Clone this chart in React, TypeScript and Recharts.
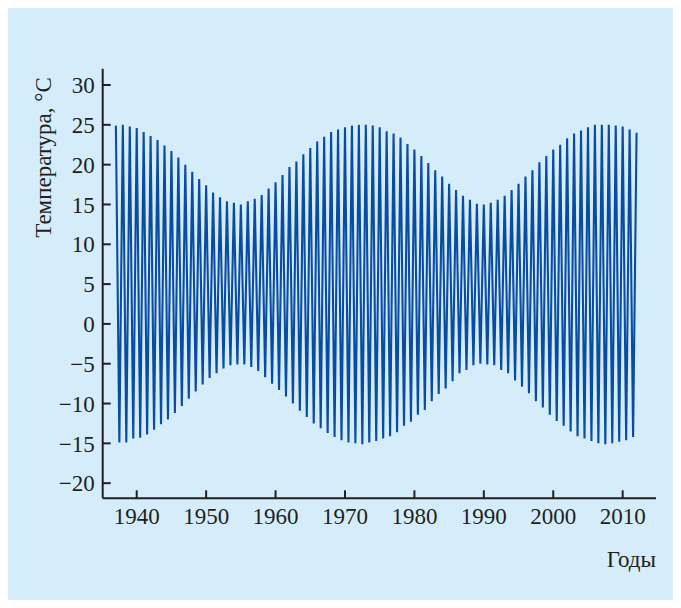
import React from 'react';
import { LineChart, Line, XAxis, YAxis, Label } from 'recharts';

const firstYear = 1937;
const troughOffset = 0.5;

// Annual maxima (one per year, 1937–2012)
const peakTemps = [
  24.9, 25.0, 24.8, 24.6, 24.1, 23.6, 23.1, 22.4, 21.7, 20.9,
  20.0, 19.1, 18.2, 17.4, 16.5, 15.9, 15.4, 15.2, 15.0, 15.4,
  15.7, 16.2, 17.0, 17.8, 18.7, 19.7, 20.4, 21.3, 22.1, 22.9,
  23.5, 24.1, 24.4, 24.7, 24.9, 25.0, 25.0, 24.9, 24.7, 24.2,
  23.9, 23.4, 22.6, 21.9, 21.1, 20.2, 19.3, 18.5, 17.6, 16.8,
  16.1, 15.6, 15.1, 15.0, 15.2, 15.6, 16.1, 16.8, 17.6, 18.5,
  19.3, 20.3, 21.1, 21.9, 22.5, 23.3, 23.9, 24.3, 24.7, 25.0,
  25.0, 25.0, 24.9, 24.8, 24.4, 24.0,
];

// Annual minima (between consecutive maxima, 1937.5–2011.5)
const troughTemps = [
  -14.9, -14.9, -14.4, -14.3, -13.9, -13.3, -12.6, -12.0, -11.2, -10.3,
  -9.4, -8.5, -7.6, -6.8, -6.2, -5.6, -5.2, -5.1, -5.1, -5.4,
  -5.9, -6.7, -7.5, -8.3, -9.1, -10.0, -10.9, -11.7, -12.5, -13.1,
  -13.7, -14.2, -14.6, -14.9, -15.0, -15.1, -14.9, -14.7, -14.4, -14.1,
  -13.6, -12.8, -12.3, -11.4, -10.8, -9.7, -8.8, -8.1, -7.2, -6.2,
  -5.8, -5.2, -5.0, -5.1, -5.2, -5.8, -6.2, -7.1, -7.9, -8.7,
  -9.7, -10.5, -11.4, -12.2, -12.8, -13.5, -14.1, -14.4, -14.7, -15.0,
  -15.1, -15.0, -14.8, -14.6, -14.2,
];

const xTicks = [1940, 1950, 1960, 1970, 1980, 1990, 2000, 2010];
const yTicks = [-20, -15, -10, -5, 0, 5, 10, 15, 20, 25, 30];
const xDomain = [1935.1, 2014.8];
const yDomain = [-21.9, 32.05];
const xTitle = 'Годы';
const yTitle = 'Температура, °С';

const data: { year: number; temp: number }[] = [];
peakTemps.forEach((p, i) => {
  data.push({ year: firstYear + i, temp: p });
  if (i < troughTemps.length) {
    data.push({ year: firstYear + i + troughOffset, temp: troughTemps[i] });
  }
});

const INK = '#231f20';
const FONT = '"Liberation Serif", "Times New Roman", serif';
const FS = 23;

const fmtMinus = (v: number) => String(v).replace('-', '\u2212');

const XTitleContent = (props: any) => {
  const vb = props.viewBox || { x: 0, y: 0, width: 0, height: 0 };
  return (
    <text
      x={vb.x + vb.width}
      y={vb.y + 69}
      textAnchor="end"
      fontSize={FS}
      fontFamily={FONT}
      fill={INK}
    >
      {xTitle}
    </text>
  );
};

const YTitleContent = (props: any) => {
  const vb = props.viewBox || { x: 0, y: 0, width: 0, height: 0 };
  const x = vb.x + 8.5;
  const y = vb.y + 88.8;
  return (
    <text
      x={x}
      y={y}
      textAnchor="middle"
      transform={`rotate(-90, ${x}, ${y})`}
      fontSize={FS}
      fontFamily={FONT}
      fill={INK}
    >
      {yTitle}
    </text>
  );
};

const axisLine = { stroke: INK, strokeWidth: 2 };
const tickLine = { stroke: INK, strokeWidth: 2 };
const tickStyle = { fill: INK, fontSize: FS, fontFamily: FONT };

export default function App() {
  return (
    <div style={{ width: 665, height: 592, background: '#d5edfa' }}>
      <LineChart
        width={665}
        height={592}
        data={data}
        margin={{ top: 60.7, right: 17, bottom: 71.7, left: 34.7 }}
      >
        <XAxis
          dataKey="year"
          type="number"
          domain={xDomain}
          allowDataOverflow
          ticks={xTicks}
          interval={0}
          height={30}
          tickSize={-8}
          tickMargin={17}
          axisLine={axisLine}
          tickLine={tickLine}
          tick={tickStyle}
          stroke={INK}
        >
          <Label content={XTitleContent} />
        </XAxis>
        <XAxis
          xAxisId="top"
          orientation="top"
          dataKey="year"
          type="number"
          domain={xDomain}
          allowDataOverflow
          ticks={xTicks}
          interval={0}
          height={0}
          tickSize={-8}
          axisLine={axisLine}
          tickLine={tickLine}
          tickFormatter={() => ''}
          stroke={INK}
        />
        <YAxis
          type="number"
          domain={yDomain}
          allowDataOverflow
          ticks={yTicks}
          interval={0}
          width={60}
          tickSize={-8}
          tickMargin={16}
          tickFormatter={fmtMinus}
          axisLine={axisLine}
          tickLine={tickLine}
          tick={tickStyle}
          stroke={INK}
        >
          <Label content={YTitleContent} />
        </YAxis>
        <YAxis
          yAxisId="right"
          orientation="right"
          type="number"
          domain={yDomain}
          allowDataOverflow
          ticks={yTicks}
          interval={0}
          width={0}
          tickSize={-8}
          tickFormatter={() => ''}
          axisLine={axisLine}
          tickLine={tickLine}
          stroke={INK}
        />
        <Line
          type="linear"
          dataKey="temp"
          stroke="#0b4ca3"
          strokeWidth={2.1}
          dot={false}
          activeDot={false}
          isAnimationActive={false}
        />
      </LineChart>
    </div>
  );
}
